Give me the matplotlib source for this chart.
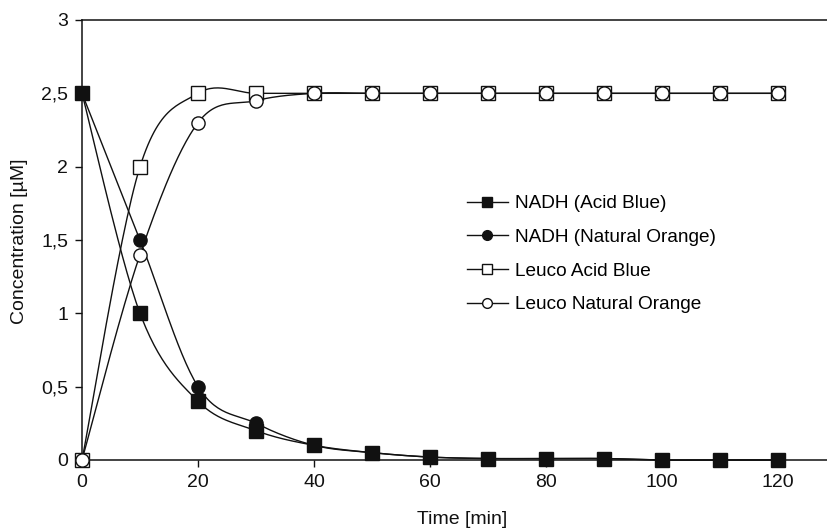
import numpy as np
import matplotlib
matplotlib.use("Agg")
import matplotlib.pyplot as plt
from matplotlib.lines import Line2D
from matplotlib.ticker import FuncFormatter

plt.rcParams['font.family'] = ['Liberation Sans', 'DejaVu Sans']

# data
time_min = [0, 10, 20, 30, 40, 50, 60, 70, 80, 90, 100, 110, 120]
nadh_acid_blue = [2.5, 1.0, 0.4, 0.2, 0.1, 0.05, 0.02, 0.01, 0.01, 0.01, 0.0, 0.0, 0.0]
nadh_natural_orange = [2.5, 1.5, 0.5, 0.25, 0.1, 0.05, 0.02, 0.01, 0.01, 0.01, 0.0, 0.0, 0.0]
leuco_acid_blue = [0.0, 2.0, 2.5, 2.5, 2.5, 2.5, 2.5, 2.5, 2.5, 2.5, 2.5, 2.5, 2.5]
leuco_natural_orange = [0.0, 1.4, 2.3, 2.45, 2.5, 2.5, 2.5, 2.5, 2.5, 2.5, 2.5, 2.5, 2.5]

labels = ["NADH (Acid Blue)", "NADH (Natural Orange)",
          "Leuco Acid Blue", "Leuco Natural Orange"]

INK = "#111111"
W, H = 827, 528


def smooth(x, y, n=30):
    """Excel-like smoothed line: cubic Bezier segments through the points."""
    p = np.column_stack([x, y]).astype(float)
    out = []
    for i in range(len(p) - 1):
        p0 = p[max(i - 1, 0)]
        p1 = p[i]
        p2 = p[i + 1]
        p3 = p[min(i + 2, len(p) - 1)]
        c1 = p1 + (p2 - p0) / 6.0
        c2 = p2 - (p3 - p1) / 6.0
        t = np.linspace(0, 1, n)[:, None]
        seg = ((1 - t) ** 3) * p1 + 3 * ((1 - t) ** 2) * t * c1 \
            + 3 * (1 - t) * (t ** 2) * c2 + (t ** 3) * p2
        out.append(seg if i == 0 else seg[1:])
    seg = np.vstack(out)
    return seg[:, 0], seg[:, 1]


fig = plt.figure(figsize=(W / 100, H / 100), dpi=100)
ax = fig.add_axes([82 / W, (H - 460) / H, 1 - 82 / W, 440 / H])

# series drawn bottom to top
series = [
    (leuco_acid_blue, 's', 'white', 10),
    (leuco_natural_orange, 'o', 'white', 9.5),
    (nadh_natural_orange, 'o', INK, 9.5),
    (nadh_acid_blue, 's', INK, 10),
]
for yv, mk, fc, ms in series:
    sx, sy = smooth(time_min, yv)
    ax.plot(sx, sy, color=INK, lw=1.0, zorder=2, clip_on=False)
for k, (yv, mk, fc, ms) in enumerate(series):
    ax.plot(time_min, yv, linestyle='none', marker=mk, ms=ms,
            mfc=fc, mec=INK, mew=1.0, zorder=3 + k, clip_on=False)

ax.set_xlim(0, 128.4)
ax.set_ylim(0, 3)
ax.set_xticks(np.arange(0, 121, 20))
ax.set_yticks(np.arange(0, 3.01, 0.5))
ax.yaxis.set_major_formatter(
    FuncFormatter(lambda v, pos: f"{v:g}".replace('.', ',')))

ax.spines['right'].set_visible(False)
for side in ['left', 'bottom', 'top']:
    ax.spines[side].set_linewidth(1.1)
    ax.spines[side].set_color(INK)
ax.tick_params(direction='out', length=5, width=1.0, labelsize=14,
               colors=INK, pad=5)

fig.text(462 / W, (H - 524) / H, "Time [min]", fontsize=14, color=INK,
         ha='center', va='baseline')
fig.text(20 / W, (H - 241) / H, "Concentration [µM]", fontsize=14,
         color=INK, rotation=90, ha='center', va='center')

handles = [
    Line2D([], [], color=INK, lw=1.0, marker='s', ms=7, mfc=INK, mec=INK),
    Line2D([], [], color=INK, lw=1.0, marker='o', ms=7, mfc=INK, mec=INK),
    Line2D([], [], color=INK, lw=1.0, marker='s', ms=7, mfc='white', mec=INK),
    Line2D([], [], color=INK, lw=1.0, marker='o', ms=7, mfc='white', mec=INK),
]
fig.legend(handles, labels, loc='upper left',
           bbox_to_anchor=(467 / W, (H - 195) / H),
           frameon=False, fontsize=13.7, handlelength=2.15,
           handletextpad=0.37, labelspacing=0.86, borderpad=0,
           borderaxespad=0)

fig.savefig("out.png", dpi=100)
